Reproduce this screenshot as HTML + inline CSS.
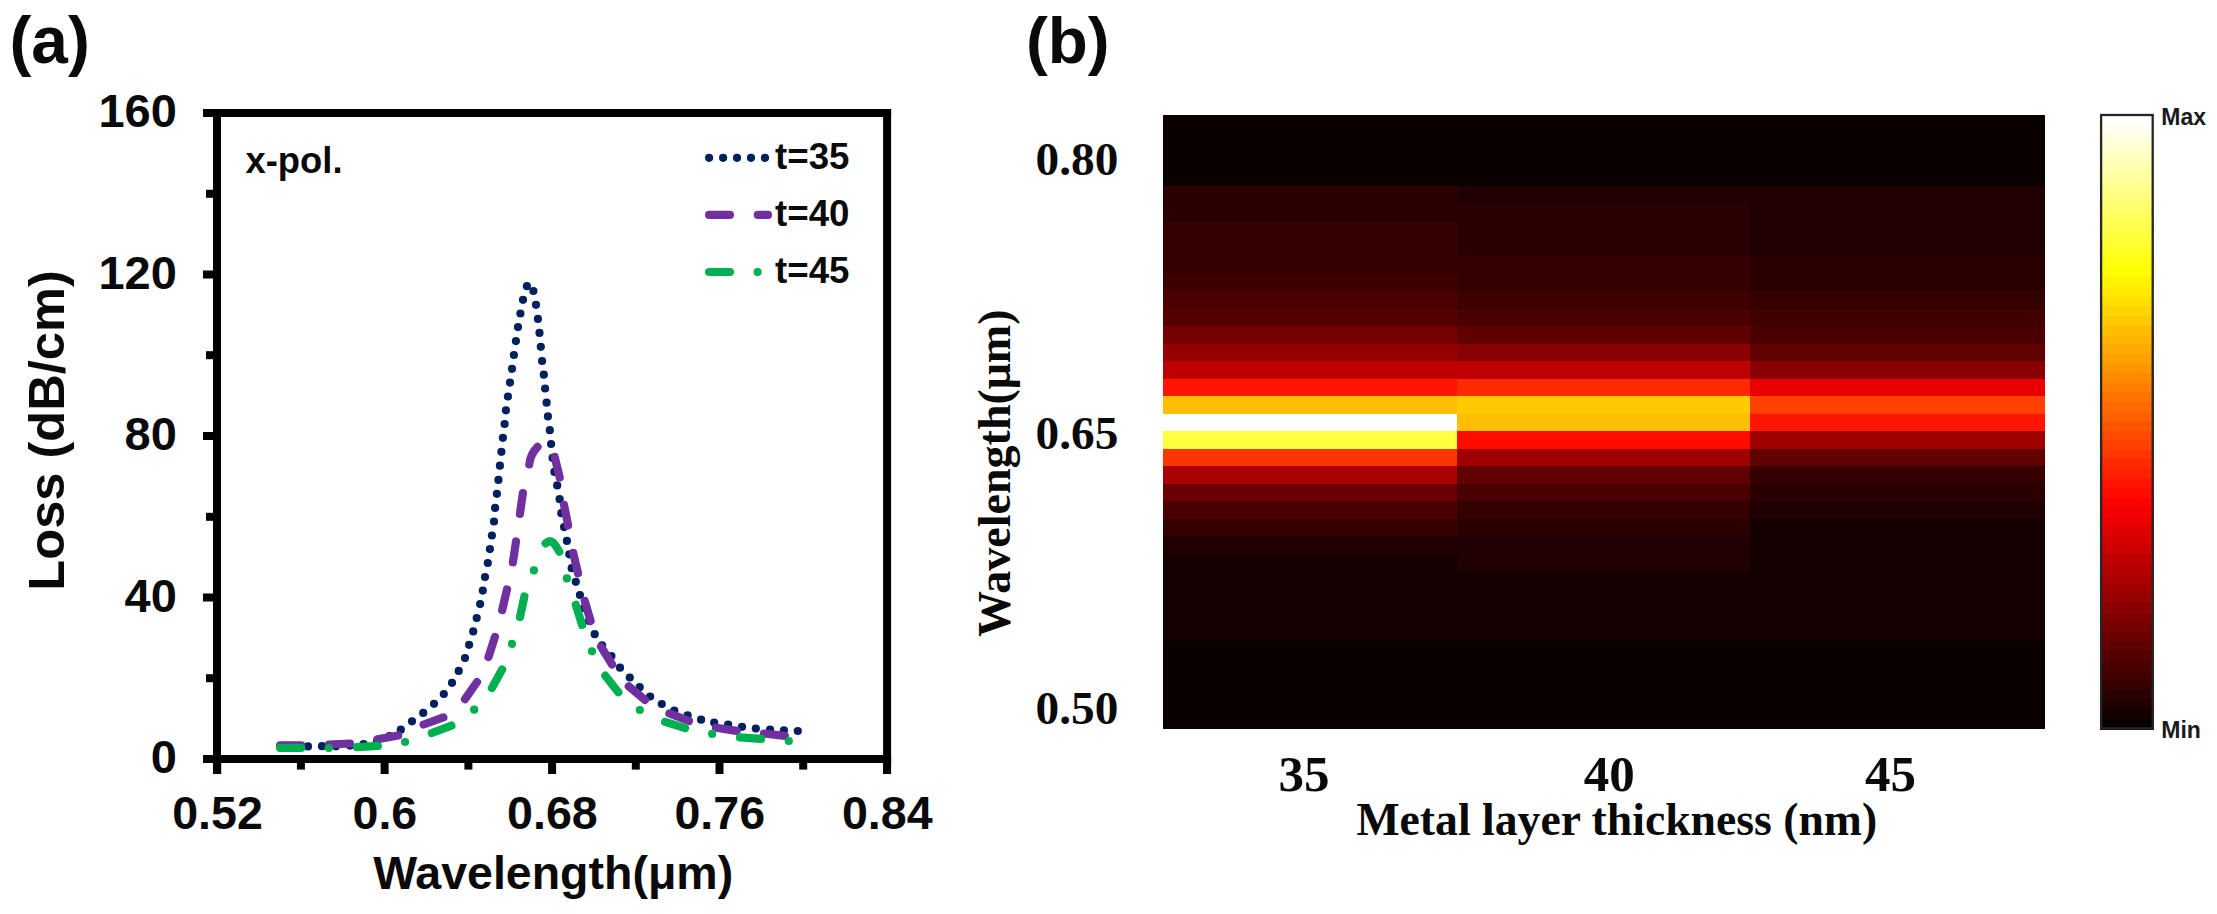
<!DOCTYPE html>
<html lang="en"><head><meta charset="utf-8"><title>Figure: loss spectra and heat map</title>
<style>
html,body{margin:0;padding:0;background:#fff;}
body{width:2217px;height:914px;overflow:hidden;}
svg{display:block;}
.sb{font-family:"Liberation Sans",Arial,Helvetica,sans-serif;font-weight:700;fill:#0a0a0a;}
.tb{font-family:"Liberation Serif","Times New Roman",Times,serif;font-weight:700;fill:#0a0a0a;}
</style></head><body>
<svg width="2217" height="914" viewBox="0 0 2217 914">
<rect x="0" y="0" width="2217" height="914" fill="#ffffff"/>
<g id="panel-a">
<text class="sb" x="9.4" y="63" font-size="65.8">(a)</text>
<g fill="#002060">
<circle cx="280.0" cy="746.6" r="4.1"/><circle cx="294.0" cy="746.5" r="4.1"/><circle cx="308.0" cy="746.4" r="4.1"/><circle cx="322.0" cy="746.2" r="4.1"/><circle cx="336.0" cy="746.3" r="4.1"/><circle cx="350.0" cy="745.6" r="4.1"/><circle cx="363.6" cy="744.2" r="4.1"/><circle cx="377.0" cy="741.0" r="4.1"/><circle cx="389.5" cy="736.0" r="4.1"/><circle cx="400.8" cy="729.7" r="4.1"/><circle cx="412.0" cy="721.3" r="4.1"/><circle cx="423.2" cy="712.9" r="4.1"/><circle cx="434.0" cy="703.8" r="4.1"/><circle cx="443.8" cy="694.0" r="4.1"/><circle cx="452.0" cy="682.8" r="4.1"/><circle cx="458.7" cy="670.9" r="4.1"/><circle cx="465.0" cy="658.0" r="4.1"/><circle cx="469.1" cy="644.8" r="4.1"/><circle cx="473.2" cy="631.4" r="4.1"/><circle cx="476.7" cy="618.0" r="4.1"/><circle cx="480.1" cy="604.1" r="4.1"/><circle cx="482.8" cy="590.6" r="4.1"/><circle cx="485.0" cy="577.0" r="4.1"/><circle cx="487.8" cy="563.0" r="4.1"/><circle cx="489.9" cy="549.1" r="4.1"/><circle cx="491.9" cy="535.5" r="4.1"/><circle cx="494.0" cy="521.5" r="4.1"/><circle cx="495.1" cy="507.8" r="4.1"/><circle cx="496.9" cy="493.8" r="4.1"/><circle cx="498.4" cy="479.9" r="4.1"/><circle cx="499.9" cy="465.7" r="4.1"/><circle cx="501.4" cy="451.8" r="4.1"/><circle cx="502.9" cy="437.8" r="4.1"/><circle cx="504.6" cy="424.0" r="4.1"/><circle cx="505.9" cy="410.3" r="4.1"/><circle cx="507.9" cy="396.5" r="4.1"/><circle cx="510.0" cy="382.6" r="4.1"/><circle cx="512.0" cy="368.8" r="4.1"/><circle cx="513.9" cy="355.0" r="4.1"/><circle cx="515.9" cy="341.1" r="4.1"/><circle cx="518.0" cy="327.1" r="4.1"/><circle cx="520.4" cy="313.5" r="4.1"/><circle cx="523.0" cy="299.8" r="4.1"/><circle cx="526.9" cy="286.2" r="4.1"/><circle cx="533.4" cy="291.0" r="4.1"/><circle cx="536.0" cy="304.8" r="4.1"/><circle cx="537.9" cy="318.9" r="4.1"/><circle cx="539.5" cy="332.9" r="4.1"/><circle cx="540.8" cy="346.8" r="4.1"/><circle cx="542.1" cy="361.0" r="4.1"/><circle cx="543.8" cy="374.7" r="4.1"/><circle cx="545.1" cy="388.5" r="4.1"/><circle cx="546.6" cy="402.7" r="4.1"/><circle cx="547.9" cy="416.4" r="4.1"/><circle cx="549.8" cy="430.2" r="4.1"/><circle cx="551.1" cy="444.0" r="4.1"/><circle cx="552.6" cy="457.9" r="4.1"/><circle cx="554.4" cy="471.9" r="4.1"/><circle cx="557.2" cy="485.4" r="4.1"/><circle cx="559.6" cy="499.2" r="4.1"/><circle cx="561.3" cy="513.2" r="4.1"/><circle cx="564.1" cy="527.1" r="4.1"/><circle cx="566.9" cy="540.9" r="4.1"/><circle cx="569.3" cy="554.3" r="4.1"/><circle cx="571.7" cy="568.2" r="4.1"/><circle cx="575.8" cy="581.8" r="4.1"/><circle cx="579.9" cy="595.0" r="4.1"/><circle cx="584.0" cy="608.0" r="4.1"/><circle cx="589.0" cy="621.0" r="4.1"/><circle cx="594.7" cy="634.2" r="4.1"/><circle cx="602.1" cy="645.3" r="4.1"/><circle cx="611.4" cy="656.0" r="4.1"/><circle cx="620.0" cy="667.7" r="4.1"/><circle cx="629.8" cy="677.5" r="4.1"/><circle cx="639.7" cy="687.2" r="4.1"/><circle cx="650.1" cy="696.5" r="4.1"/><circle cx="661.8" cy="704.0" r="4.1"/><circle cx="674.3" cy="710.7" r="4.1"/><circle cx="687.6" cy="715.4" r="4.1"/><circle cx="701.1" cy="719.7" r="4.1"/><circle cx="714.2" cy="722.5" r="4.1"/><circle cx="728.1" cy="724.6" r="4.1"/><circle cx="742.0" cy="726.8" r="4.1"/><circle cx="755.8" cy="728.5" r="4.1"/><circle cx="770.1" cy="729.6" r="4.1"/><circle cx="783.9" cy="730.3" r="4.1"/><circle cx="797.8" cy="731.0" r="4.1"/>
</g>
<g stroke="#7030A0" stroke-width="8.2" stroke-linecap="round" fill="none">
<line x1="280.2" y1="745.3" x2="301.2" y2="745.3"/><line x1="329.0" y1="744.5" x2="350.0" y2="743.5"/><line x1="377.6" y1="739.3" x2="398.2" y2="735.5"/><line x1="423.6" y1="724.5" x2="443.4" y2="717.4"/><line x1="465.0" y1="699.2" x2="477.0" y2="682.0"/><line x1="488.5" y1="657.0" x2="494.9" y2="637.0"/><line x1="502.2" y1="610.0" x2="507.0" y2="589.5"/><line x1="512.9" y1="562.3" x2="516.0" y2="541.5"/><line x1="519.9" y1="513.9" x2="522.9" y2="493.1"/><line x1="554.7" y1="457.0" x2="559.7" y2="477.4"/><line x1="564.0" y1="504.8" x2="568.1" y2="525.4"/><line x1="573.2" y1="552.8" x2="578.0" y2="573.3"/><line x1="584.7" y1="600.9" x2="590.6" y2="621.0"/><line x1="601.0" y1="646.7" x2="612.1" y2="664.5"/><line x1="628.8" y1="686.3" x2="644.9" y2="699.8"/><line x1="669.4" y1="713.4" x2="689.0" y2="721.0"/><line x1="716.0" y1="727.7" x2="736.7" y2="730.9"/><line x1="763.9" y1="733.5" x2="784.8" y2="735.8"/>
<path d="M529.3 464.3 Q530.2 454.6 537.5 446.9"/>
</g>
<g stroke="#00B050" stroke-width="8.2" stroke-linecap="round" fill="none">
<line x1="280.2" y1="747.9" x2="301.2" y2="747.9"/><line x1="357.0" y1="747.1" x2="377.9" y2="745.9"/><line x1="431.8" y1="733.0" x2="451.4" y2="725.6"/><line x1="491.9" y1="688.0" x2="502.1" y2="669.6"/><line x1="520.0" y1="617.0" x2="524.4" y2="596.4"/><line x1="575.8" y1="604.8" x2="582.1" y2="624.9"/><line x1="605.3" y1="675.7" x2="618.3" y2="692.2"/><line x1="665.1" y1="721.9" x2="685.1" y2="728.1"/><line x1="740.0" y1="737.4" x2="761.0" y2="738.9"/>
<path d="M545.6 543.3 Q549.6 539.3 553.6 543 Q557 547.3 559.3 551.6"/>
</g>
<g fill="#00B050">
<circle cx="328.8" cy="748.0" r="4.1"/><circle cx="405.1" cy="742.0" r="4.1"/><circle cx="474.2" cy="709.7" r="4.1"/><circle cx="511.9" cy="643.9" r="4.1"/><circle cx="533.9" cy="570.4" r="4.1"/><circle cx="566.9" cy="578.4" r="4.1"/><circle cx="592.0" cy="651.3" r="4.1"/><circle cx="639.8" cy="710.0" r="4.1"/><circle cx="712.2" cy="733.9" r="4.1"/><circle cx="788.8" cy="741.0" r="4.1"/>
</g>
<g fill="#000000">
<rect x="203" y="109" width="688.1" height="8"/>
<rect x="213" y="109" width="8" height="665"/>
<rect x="883.1" y="109" width="8" height="665"/>
<rect x="203" y="755" width="688.1" height="8"/>
<rect x="203" y="755.0" width="12" height="8"/>
<rect x="206" y="674.2" width="9" height="8"/>
<rect x="203" y="593.5" width="12" height="8"/>
<rect x="206" y="512.8" width="9" height="8"/>
<rect x="203" y="432.0" width="12" height="8"/>
<rect x="206" y="351.2" width="9" height="8"/>
<rect x="203" y="270.5" width="12" height="8"/>
<rect x="206" y="189.8" width="9" height="8"/>
<rect x="203" y="109.0" width="12" height="8"/>
<rect x="213.2" y="760" width="8" height="14"/>
<rect x="296.9" y="760" width="8" height="9.6"/>
<rect x="380.6" y="760" width="8" height="14"/>
<rect x="464.4" y="760" width="8" height="9.6"/>
<rect x="548.1" y="760" width="8" height="14"/>
<rect x="631.8" y="760" width="8" height="9.6"/>
<rect x="715.5" y="760" width="8" height="14"/>
<rect x="799.2" y="760" width="8" height="9.6"/>
<rect x="883.0" y="760" width="8" height="14"/>
</g>
<text class="sb" x="176.8" y="773.0" font-size="47" text-anchor="end">0</text>
<text class="sb" x="176.8" y="611.5" font-size="47" text-anchor="end">40</text>
<text class="sb" x="176.8" y="450.0" font-size="47" text-anchor="end">80</text>
<text class="sb" x="176.8" y="288.5" font-size="47" text-anchor="end">120</text>
<text class="sb" x="176.8" y="127.0" font-size="47" text-anchor="end">160</text>
<text class="sb" x="217.5" y="829.1" font-size="46.6" text-anchor="middle">0.52</text>
<text class="sb" x="384.9" y="829.1" font-size="46.6" text-anchor="middle">0.6</text>
<text class="sb" x="552.4" y="829.1" font-size="46.6" text-anchor="middle">0.68</text>
<text class="sb" x="719.8" y="829.1" font-size="46.6" text-anchor="middle">0.76</text>
<text class="sb" x="887.3" y="829.1" font-size="46.6" text-anchor="middle">0.84</text>
<text class="sb" x="553.2" y="888.8" font-size="46.5" text-anchor="middle">Wavelength(μm)</text>
<text class="sb" transform="translate(64,430.4) rotate(-90)" font-size="50.6" text-anchor="middle">Loss (dB/cm)</text>
<text class="sb" x="245.5" y="172.7" font-size="36.4">x-pol.</text>
<g fill="#002060">
<circle cx="709.1" cy="157.8" r="4.1"/><circle cx="723.1" cy="157.8" r="4.1"/><circle cx="737.0" cy="157.8" r="4.1"/><circle cx="751.0" cy="157.8" r="4.1"/><circle cx="765.0" cy="157.8" r="4.1"/>
</g>
<g stroke="#7030A0" stroke-width="8.2" stroke-linecap="round"><line x1="709.1" y1="214.9" x2="729.9" y2="214.9"/><line x1="757.8" y1="214.9" x2="768" y2="214.9"/></g>
<g stroke="#00B050" stroke-width="8.2" stroke-linecap="round"><line x1="709.1" y1="272" x2="729.9" y2="272"/></g>
<circle cx="757.6" cy="272" r="4.1" fill="#00B050"/>
<text class="sb" x="775" y="169.2" font-size="36.7">t=35</text>
<text class="sb" x="775" y="226.4" font-size="36.7">t=40</text>
<text class="sb" x="775" y="283.0" font-size="36.7">t=45</text>
</g>
<g id="panel-b">
<text class="sb" x="1026" y="62.7" font-size="65.5">(b)</text>
<g shape-rendering="crispEdges">
<rect x="1163" y="115" width="882" height="614" fill="#0b0000"/>
<rect x="1163" y="186" width="294" height="35" fill="#2a0000"/>
<rect x="1163" y="221" width="294" height="53" fill="#350000"/>
<rect x="1163" y="274" width="294" height="17" fill="#400000"/>
<rect x="1163" y="291" width="294" height="18" fill="#4a0000"/>
<rect x="1163" y="309" width="294" height="17" fill="#550000"/>
<rect x="1163" y="326" width="294" height="18" fill="#750000"/>
<rect x="1163" y="344" width="294" height="17" fill="#950000"/>
<rect x="1163" y="361" width="294" height="18" fill="#bf0000"/>
<rect x="1163" y="379" width="294" height="17" fill="#ff1500"/>
<rect x="1163" y="396" width="294" height="18" fill="#ffbf00"/>
<rect x="1163" y="414" width="294" height="17" fill="#ffffff"/>
<rect x="1163" y="431" width="294" height="18" fill="#ffff40"/>
<rect x="1163" y="449" width="294" height="17" fill="#ff3500"/>
<rect x="1163" y="466" width="294" height="18" fill="#aa0000"/>
<rect x="1163" y="484" width="294" height="17" fill="#6a0000"/>
<rect x="1163" y="501" width="294" height="18" fill="#4a0000"/>
<rect x="1163" y="519" width="294" height="17" fill="#350000"/>
<rect x="1163" y="536" width="294" height="18" fill="#200000"/>
<rect x="1163" y="554" width="294" height="87" fill="#150000"/>
<rect x="1457" y="186" width="293" height="18" fill="#200000"/>
<rect x="1457" y="204" width="293" height="52" fill="#2a0000"/>
<rect x="1457" y="256" width="293" height="35" fill="#350000"/>
<rect x="1457" y="291" width="293" height="18" fill="#400000"/>
<rect x="1457" y="309" width="293" height="17" fill="#4a0000"/>
<rect x="1457" y="326" width="293" height="18" fill="#600000"/>
<rect x="1457" y="344" width="293" height="17" fill="#8a0000"/>
<rect x="1457" y="361" width="293" height="18" fill="#bf0000"/>
<rect x="1457" y="379" width="293" height="17" fill="#ff2a00"/>
<rect x="1457" y="396" width="293" height="18" fill="#ffca00"/>
<rect x="1457" y="414" width="293" height="17" fill="#ffbf00"/>
<rect x="1457" y="431" width="293" height="18" fill="#ff0b00"/>
<rect x="1457" y="449" width="293" height="17" fill="#9f0000"/>
<rect x="1457" y="466" width="293" height="18" fill="#600000"/>
<rect x="1457" y="484" width="293" height="17" fill="#4a0000"/>
<rect x="1457" y="501" width="293" height="18" fill="#350000"/>
<rect x="1457" y="519" width="293" height="17" fill="#2a0000"/>
<rect x="1457" y="536" width="293" height="35" fill="#200000"/>
<rect x="1457" y="571" width="293" height="70" fill="#150000"/>
<rect x="1750" y="186" width="295" height="70" fill="#200000"/>
<rect x="1750" y="256" width="295" height="35" fill="#2a0000"/>
<rect x="1750" y="291" width="295" height="18" fill="#350000"/>
<rect x="1750" y="309" width="295" height="17" fill="#400000"/>
<rect x="1750" y="326" width="295" height="18" fill="#4a0000"/>
<rect x="1750" y="344" width="295" height="17" fill="#600000"/>
<rect x="1750" y="361" width="295" height="18" fill="#8a0000"/>
<rect x="1750" y="379" width="295" height="17" fill="#ea0000"/>
<rect x="1750" y="396" width="295" height="18" fill="#ff4000"/>
<rect x="1750" y="414" width="295" height="17" fill="#ff1500"/>
<rect x="1750" y="431" width="295" height="18" fill="#9f0000"/>
<rect x="1750" y="449" width="295" height="17" fill="#600000"/>
<rect x="1750" y="466" width="295" height="18" fill="#350000"/>
<rect x="1750" y="484" width="295" height="17" fill="#2a0000"/>
<rect x="1750" y="501" width="295" height="18" fill="#200000"/>
<rect x="1750" y="519" width="295" height="122" fill="#150000"/>
</g>
<g shape-rendering="crispEdges">
<rect x="2100.0" y="725.0" width="54.0" height="4.5" fill="#0b0000"/>
<rect x="2100.0" y="717.42" width="54.0" height="10.18" fill="#0b0000"/>
<rect x="2100.0" y="707.84" width="54.0" height="10.18" fill="#150000"/>
<rect x="2100.0" y="698.27" width="54.0" height="10.18" fill="#200000"/>
<rect x="2100.0" y="688.69" width="54.0" height="10.18" fill="#2a0000"/>
<rect x="2100.0" y="679.11" width="54.0" height="10.18" fill="#350000"/>
<rect x="2100.0" y="669.53" width="54.0" height="10.18" fill="#400000"/>
<rect x="2100.0" y="659.95" width="54.0" height="10.18" fill="#4a0000"/>
<rect x="2100.0" y="650.38" width="54.0" height="10.18" fill="#550000"/>
<rect x="2100.0" y="640.80" width="54.0" height="10.18" fill="#600000"/>
<rect x="2100.0" y="631.22" width="54.0" height="10.18" fill="#6a0000"/>
<rect x="2100.0" y="621.64" width="54.0" height="10.18" fill="#750000"/>
<rect x="2100.0" y="612.06" width="54.0" height="10.18" fill="#800000"/>
<rect x="2100.0" y="602.48" width="54.0" height="10.18" fill="#8a0000"/>
<rect x="2100.0" y="592.91" width="54.0" height="10.18" fill="#950000"/>
<rect x="2100.0" y="583.33" width="54.0" height="10.18" fill="#9f0000"/>
<rect x="2100.0" y="573.75" width="54.0" height="10.18" fill="#aa0000"/>
<rect x="2100.0" y="564.17" width="54.0" height="10.18" fill="#b50000"/>
<rect x="2100.0" y="554.59" width="54.0" height="10.18" fill="#bf0000"/>
<rect x="2100.0" y="545.02" width="54.0" height="10.18" fill="#ca0000"/>
<rect x="2100.0" y="535.44" width="54.0" height="10.18" fill="#d40000"/>
<rect x="2100.0" y="525.86" width="54.0" height="10.18" fill="#df0000"/>
<rect x="2100.0" y="516.28" width="54.0" height="10.18" fill="#ea0000"/>
<rect x="2100.0" y="506.70" width="54.0" height="10.18" fill="#f40000"/>
<rect x="2100.0" y="497.12" width="54.0" height="10.18" fill="#ff0000"/>
<rect x="2100.0" y="487.55" width="54.0" height="10.18" fill="#ff0b00"/>
<rect x="2100.0" y="477.97" width="54.0" height="10.18" fill="#ff1500"/>
<rect x="2100.0" y="468.39" width="54.0" height="10.18" fill="#ff2000"/>
<rect x="2100.0" y="458.81" width="54.0" height="10.18" fill="#ff2a00"/>
<rect x="2100.0" y="449.23" width="54.0" height="10.18" fill="#ff3500"/>
<rect x="2100.0" y="439.66" width="54.0" height="10.18" fill="#ff4000"/>
<rect x="2100.0" y="430.08" width="54.0" height="10.18" fill="#ff4a00"/>
<rect x="2100.0" y="420.50" width="54.0" height="10.18" fill="#ff5500"/>
<rect x="2100.0" y="410.92" width="54.0" height="10.18" fill="#ff6000"/>
<rect x="2100.0" y="401.34" width="54.0" height="10.18" fill="#ff6a00"/>
<rect x="2100.0" y="391.77" width="54.0" height="10.18" fill="#ff7500"/>
<rect x="2100.0" y="382.19" width="54.0" height="10.18" fill="#ff8000"/>
<rect x="2100.0" y="372.61" width="54.0" height="10.18" fill="#ff8a00"/>
<rect x="2100.0" y="363.03" width="54.0" height="10.18" fill="#ff9500"/>
<rect x="2100.0" y="353.45" width="54.0" height="10.18" fill="#ff9f00"/>
<rect x="2100.0" y="343.88" width="54.0" height="10.18" fill="#ffaa00"/>
<rect x="2100.0" y="334.30" width="54.0" height="10.18" fill="#ffb500"/>
<rect x="2100.0" y="324.72" width="54.0" height="10.18" fill="#ffbf00"/>
<rect x="2100.0" y="315.14" width="54.0" height="10.18" fill="#ffca00"/>
<rect x="2100.0" y="305.56" width="54.0" height="10.18" fill="#ffd400"/>
<rect x="2100.0" y="295.98" width="54.0" height="10.18" fill="#ffdf00"/>
<rect x="2100.0" y="286.41" width="54.0" height="10.18" fill="#ffea00"/>
<rect x="2100.0" y="276.83" width="54.0" height="10.18" fill="#fff400"/>
<rect x="2100.0" y="267.25" width="54.0" height="10.18" fill="#ffff00"/>
<rect x="2100.0" y="257.67" width="54.0" height="10.18" fill="#ffff10"/>
<rect x="2100.0" y="248.09" width="54.0" height="10.18" fill="#ffff20"/>
<rect x="2100.0" y="238.52" width="54.0" height="10.18" fill="#ffff30"/>
<rect x="2100.0" y="228.94" width="54.0" height="10.18" fill="#ffff40"/>
<rect x="2100.0" y="219.36" width="54.0" height="10.18" fill="#ffff50"/>
<rect x="2100.0" y="209.78" width="54.0" height="10.18" fill="#ffff60"/>
<rect x="2100.0" y="200.20" width="54.0" height="10.18" fill="#ffff70"/>
<rect x="2100.0" y="190.62" width="54.0" height="10.18" fill="#ffff80"/>
<rect x="2100.0" y="181.05" width="54.0" height="10.18" fill="#ffff8f"/>
<rect x="2100.0" y="171.47" width="54.0" height="10.18" fill="#ffff9f"/>
<rect x="2100.0" y="161.89" width="54.0" height="10.18" fill="#ffffaf"/>
<rect x="2100.0" y="152.31" width="54.0" height="10.18" fill="#ffffbf"/>
<rect x="2100.0" y="142.73" width="54.0" height="10.18" fill="#ffffcf"/>
<rect x="2100.0" y="133.16" width="54.0" height="10.18" fill="#ffffdf"/>
<rect x="2100.0" y="123.58" width="54.0" height="10.18" fill="#ffffef"/>
<rect x="2100.0" y="114.00" width="54.0" height="10.18" fill="#ffffff"/>
</g>
<rect x="2101.1" y="115" width="51.6" height="613.4" fill="none" stroke="#262626" stroke-width="2.3"/>
<text class="sb" x="2161.3" y="125" font-size="23" style="fill:#1a1a1a">Max</text>
<text class="sb" x="2161.3" y="737.9" font-size="23" style="fill:#1a1a1a">Min</text>
<text class="tb" x="1077" y="175.0" font-size="47.3" text-anchor="middle">0.80</text>
<text class="tb" x="1077" y="448.6" font-size="47.3" text-anchor="middle">0.65</text>
<text class="tb" x="1077" y="724.3" font-size="47.3" text-anchor="middle">0.50</text>
<text class="tb" transform="translate(1009.6,473.3) rotate(-90)" font-size="46" text-anchor="middle">Wavelength(μm)</text>
<text class="tb" x="1304.0" y="790.5" font-size="51" text-anchor="middle">35</text>
<text class="tb" x="1609.2" y="790.5" font-size="51" text-anchor="middle">40</text>
<text class="tb" x="1890.6" y="790.5" font-size="51" text-anchor="middle">45</text>
<text class="tb" x="1616.8" y="835" font-size="45.7" text-anchor="middle">Metal layer thickness (nm)</text>
</g>
</svg></body></html>
